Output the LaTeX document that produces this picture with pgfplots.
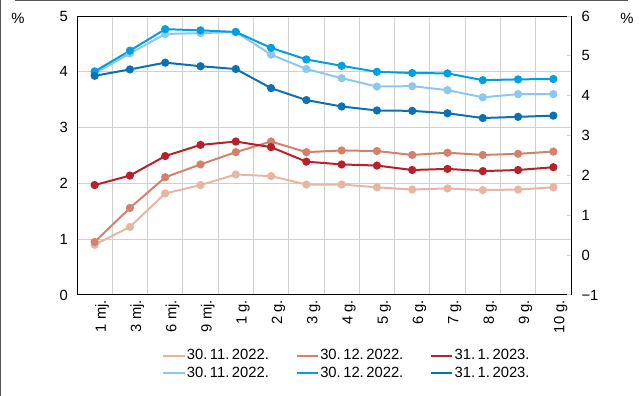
\documentclass[border=0pt]{standalone}
\usepackage{fontspec}
\setmainfont{Liberation Sans}
\usepackage{pgfplots}
\pgfplotsset{compat=1.18}
\definecolor{rA}{HTML}{E9B5A3}
\definecolor{rB}{HTML}{D4806B}
\definecolor{rC}{HTML}{B8202A}
\definecolor{bA}{HTML}{8CC8EE}
\definecolor{bB}{HTML}{009FDF}
\definecolor{bC}{HTML}{0A72B4}
\definecolor{gridc}{HTML}{CFCFCF}
\definecolor{framec}{HTML}{555555}
\pgfplotsset{
  common/.style={
    at={(57.75pt,75.75pt)}, anchor=south west,
    scale only axis, width=370.5pt, height=209.25pt,
    xmin=-0.5, xmax=13.5,
    axis line style={black, line width=0.75pt},
    every axis plot/.append style={line width=1.5pt, mark=*, mark size=2.3pt},
  },
}
\begin{document}
\fontsize{11.1pt}{13pt}\selectfont
\begin{tikzpicture}
\path[use as bounding box] (0,0) rectangle (480pt,297pt);
\draw[framec, line width=0.9pt] (0.6pt,0) -- (0.6pt,297pt);
\draw[framec, line width=0.9pt] (11.25pt,296.4pt) -- (471pt,296.4pt);
\node at (13.5pt,283.5pt) {\%};
\node at (470.25pt,283.5pt) {\%};
\begin{axis}[common,
  ymin=0, ymax=5, ytick={0,1,2,3,4,5}, yticklabels={0,1,2,3,4,5},
  xtick={0,...,13},
  xticklabels={1 mj., 3 mj., 6 mj., 9 mj., 1 g., 2 g., 3 g., 4 g., 5 g., 6 g., 7 g., 8 g., 9 g., 10 g.},
  x tick label style={rotate=90, anchor=east, xshift=0pt, yshift=-5.5pt},
  y tick label style={xshift=-3pt},
  minor xtick={0.5,1.5,...,12.5},
  xminorgrids, ymajorgrids,
  major tick length=0pt, minor tick length=0pt,
  grid style={gridc, line width=0.75pt},
  minor grid style={gridc, line width=0.75pt},
]
\addplot[color=rA] coordinates {(0,0.90)(1,1.22)(2,1.82)(3,1.97)(4,2.16)(5,2.13)(6,1.98)(7,1.98)(8,1.93)(9,1.89)(10,1.91)(11,1.88)(12,1.89)(13,1.93)};
\addplot[color=rB] coordinates {(0,0.95)(1,1.56)(2,2.11)(3,2.34)(4,2.56)(5,2.75)(6,2.56)(7,2.59)(8,2.58)(9,2.51)(10,2.55)(11,2.51)(12,2.53)(13,2.57)};
\addplot[color=rC] coordinates {(0,1.97)(1,2.14)(2,2.49)(3,2.69)(4,2.75)(5,2.65)(6,2.39)(7,2.34)(8,2.32)(9,2.24)(10,2.26)(11,2.22)(12,2.24)(13,2.29)};
\end{axis}
\begin{axis}[common,
  ymin=-1, ymax=6, ytick={-1,0,1,2,3,4,5,6},
  yticklabels={−1,0,1,2,3,4,5,6},
  axis y line*=right, axis x line=none,
  tick align=inside, major tick length=3pt,
  every tick/.style={gridc, line width=0.75pt},
  y tick label style={xshift=4pt},
  legend columns=3,
  legend style={at={(0.172,-0.19)}, anchor=north west, draw=none, fill=none,
    inner sep=0pt, row sep=1.5pt,
    nodes={inner sep=1pt, anchor=west},
    /tikz/every even column/.append style={column sep=19pt}},
  legend image code/.code={\draw[line width=1.5pt] (0pt,0pt) -- (16pt,0pt);},
]
\addlegendimage{rA}\addlegendentry{30.\,11.\,2022.}
\addlegendimage{rB}\addlegendentry{30.\,12.\,2022.}
\addlegendimage{rC}\addlegendentry{31.\,1.\,2023.}
\addplot[color=bA] coordinates {(0,4.56)(1,5.06)(2,5.55)(3,5.57)(4,5.60)(5,5.03)(6,4.67)(7,4.44)(8,4.23)(9,4.24)(10,4.14)(11,3.96)(12,4.04)(13,4.04)};
\addlegendentry{30.\,11.\,2022.}
\addplot[color=bB] coordinates {(0,4.61)(1,5.13)(2,5.67)(3,5.64)(4,5.60)(5,5.20)(6,4.91)(7,4.75)(8,4.60)(9,4.57)(10,4.56)(11,4.39)(12,4.41)(13,4.42)};
\addlegendentry{30.\,12.\,2022.}
\addplot[color=bC] coordinates {(0,4.50)(1,4.66)(2,4.83)(3,4.74)(4,4.67)(5,4.19)(6,3.89)(7,3.73)(8,3.63)(9,3.62)(10,3.56)(11,3.44)(12,3.47)(13,3.50)};
\addlegendentry{31.\,1.\,2023.}
\end{axis}
\end{tikzpicture}
\end{document}
